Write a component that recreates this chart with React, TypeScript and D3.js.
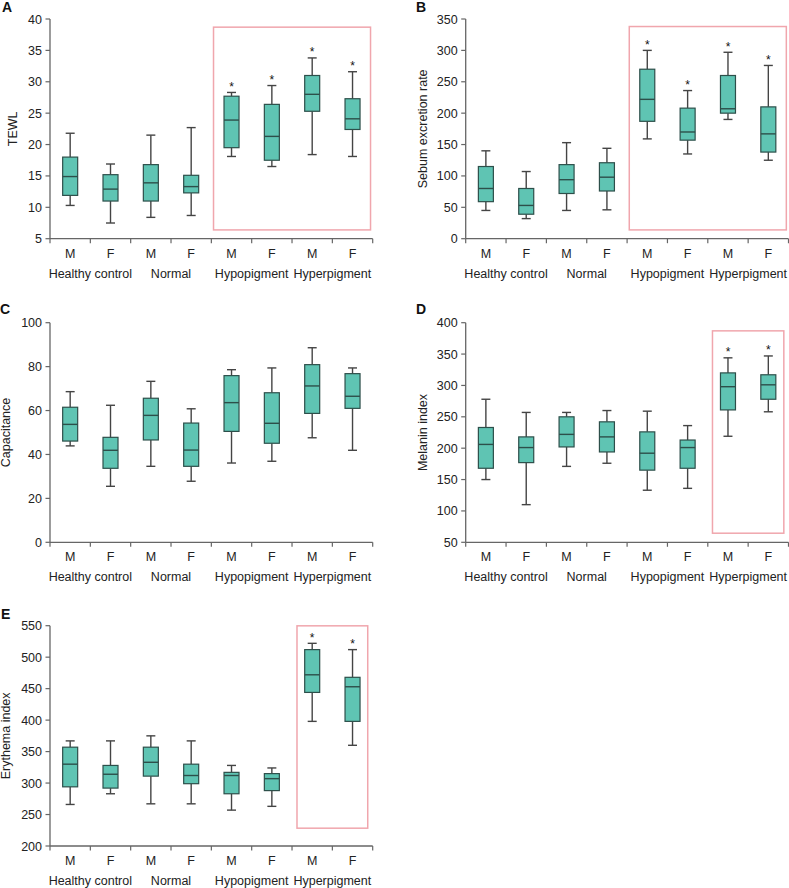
import React from "react";
import * as d3 from "d3";

const categories = ["M", "F", "M", "F", "M", "F", "M", "F"];
const groups = ["Healthy control", "Normal", "Hypopigment", "Hyperpigment"];

// [whiskerLow, q1, median, q3, whiskerHigh]
const tewl = [
  [10.3, 11.9, 14.9, 18.0, 21.8],
  [7.5, 11.0, 12.9, 15.2, 16.9],
  [8.4, 11.0, 13.9, 16.8, 21.5],
  [8.7, 12.3, 13.3, 15.1, 22.7],
  [18.1, 19.5, 23.9, 27.7, 28.3],
  [16.5, 17.5, 21.3, 26.4, 29.4],
  [18.4, 25.3, 28.0, 31.0, 33.8],
  [18.1, 22.4, 24.1, 27.3, 31.6],
];
const sebum = [
  [45, 59, 80, 115, 140],
  [32, 39, 53, 80, 107],
  [45, 72, 94, 118, 153],
  [46, 76, 98, 121, 144],
  [159, 187, 222, 270, 300],
  [135, 157, 170, 208, 236],
  [190, 200, 207, 260, 297],
  [125, 138, 167, 210, 276],
];
const capacitance = [
  [43.9, 46.1, 53.7, 61.5, 68.6],
  [25.5, 33.7, 41.9, 47.8, 62.4],
  [34.6, 46.6, 57.8, 65.6, 73.3],
  [27.8, 34.6, 42.0, 54.3, 60.8],
  [36.1, 50.5, 63.6, 75.9, 78.6],
  [36.9, 45.1, 54.2, 68.1, 79.4],
  [47.6, 58.7, 71.2, 80.9, 88.6],
  [41.9, 61.0, 66.5, 76.8, 79.4],
];
const melanin = [
  [150, 168, 206, 233, 278],
  [110, 177, 201, 218, 257],
  [171, 202, 222, 250, 257],
  [176, 194, 218, 242, 260],
  [133, 165, 192, 226, 259],
  [136, 168, 201, 213, 236],
  [219, 261, 298, 320, 344],
  [258, 278, 301, 317, 347],
];
const erythema = [
  [266, 294, 330, 357, 367],
  [283, 292, 314, 328, 367],
  [267, 311, 333, 357, 375],
  [267, 299, 312, 330, 367],
  [257, 283, 312, 317, 328],
  [263, 288, 307, 315, 324],
  [398, 444, 472, 512, 522],
  [360, 398, 453, 468, 512],
];

const starsA = [4, 5, 6, 7];
const starsB = [4, 5, 6, 7];
const starsC: number[] = [];
const starsD = [6, 7];
const starsE = [6, 7];

const ticksA = [5, 10, 15, 20, 25, 30, 35, 40];
const ticksB = [0, 50, 100, 150, 200, 250, 300, 350];
const ticksC = [0, 20, 40, 60, 80, 100];
const ticksD = [50, 100, 150, 200, 250, 300, 350, 400];
const ticksE = [200, 250, 300, 350, 400, 450, 500, 550];

// highlight: [fromIndex, toIndex, high, low]
const highlightA = [4, 7, 38.7, 6.4];
const highlightB = [4, 7, 338, 14];
const highlightD = [6, 7, 387, 64.5];
const highlightE = [6, 7, 549.8, 228.3];

type Panel = {
  letter: string;
  letterX: number;
  letterY: number;
  axisX: number;
  right: number;
  yTop: number;
  yBot: number;
  domain: [number, number];
  ticks: number[];
  label: string;
  labelX: number;
  data: number[][];
  stars: number[];
  highlight: number[] | null;
  hpad: number;
};

const panels: Panel[] = [
  { letter: "A", letterX: 2, letterY: 12, axisX: 50, right: 372.7, yTop: 19, yBot: 238.7, domain: [5, 40], ticks: ticksA, label: "TEWL", labelX: 12, data: tewl, stars: starsA, highlight: highlightA, hpad: 18 },
  { letter: "B", letterX: 416, letterY: 12, axisX: 465.7, right: 788.5, yTop: 19, yBot: 238.7, domain: [0, 350], ticks: ticksB, label: "Sebum excretion rate", labelX: 422, data: sebum, stars: starsB, highlight: highlightB, hpad: 18 },
  { letter: "C", letterX: 0, letterY: 314, axisX: 50, right: 372.7, yTop: 322.7, yBot: 542.3, domain: [0, 100], ticks: ticksC, label: "Capacitance", labelX: 5, data: capacitance, stars: starsC, highlight: null, hpad: 15 },
  { letter: "D", letterX: 416, letterY: 314, axisX: 465.7, right: 788.5, yTop: 322.7, yBot: 542.3, domain: [50, 400], ticks: ticksD, label: "Melanin index", labelX: 422, data: melanin, stars: starsD, highlight: highlightD, hpad: 15.5 },
  { letter: "E", letterX: 1, letterY: 619, axisX: 50, right: 372.7, yTop: 625.7, yBot: 846, domain: [200, 550], ticks: ticksE, label: "Erythema index", labelX: 5, data: erythema, stars: starsE, highlight: highlightE, hpad: 15.2 },
];

const FONT = "'Liberation Sans', Arial, sans-serif";
const FILL = "#5fc4b3";
const BOX_STROKE = "#2d4f4a";
const WHISKER = "#444";
const AXIS = "#666";
const PINK = "#f0a6ad";

function PanelView({ p }: { p: Panel }) {
  const x = d3
    .scaleBand<number>()
    .domain(d3.range(categories.length))
    .range([p.axisX, p.right])
    .paddingInner(0)
    .paddingOuter(0);
  const y = d3.scaleLinear().domain(p.domain).range([p.yBot, p.yTop]);
  const bw = x.bandwidth();
  const boxW = 15;
  const capW = 9;
  const boundaries = d3.range(categories.length + 1).map((i) => p.axisX + i * bw);

  return (
    <g>
      <text x={p.letterX} y={p.letterY} fontFamily={FONT} fontWeight="bold" fontSize={14} fill="#111">
        {p.letter}
      </text>
      {p.highlight && (
        <rect
          x={x(p.highlight[0])! + bw / 2 - p.hpad}
          y={y(p.highlight[2])}
          width={x(p.highlight[1])! - x(p.highlight[0])! + 2 * p.hpad}
          height={y(p.highlight[3]) - y(p.highlight[2])}
          fill="none"
          stroke={PINK}
          strokeWidth={1.5}
        />
      )}
      {/* y axis */}
      <line x1={p.axisX} x2={p.axisX} y1={p.yTop} y2={p.yBot} stroke={AXIS} strokeWidth={1.3} />
      {p.ticks.map((t) => (
        <g key={t}>
          <line x1={p.axisX - 4.5} x2={p.axisX} y1={y(t)} y2={y(t)} stroke={AXIS} strokeWidth={1.2} />
          <text x={p.axisX - 8} y={y(t)} dy="0.36em" textAnchor="end" fontFamily={FONT} fontSize={12.5} fill="#222">
            {t}
          </text>
        </g>
      ))}
      <text
        transform={`translate(${p.labelX},${(p.yTop + p.yBot) / 2}) rotate(-90)`}
        dy="0.36em"
        textAnchor="middle"
        fontFamily={FONT}
        fontSize={12.5}
        fill="#222"
      >
        {p.label}
      </text>
      {/* x axis */}
      <line x1={p.axisX} x2={p.right} y1={p.yBot} y2={p.yBot} stroke={AXIS} strokeWidth={1.3} />
      {boundaries.map((bx, i) => (
        <line key={i} x1={bx} x2={bx} y1={p.yBot} y2={p.yBot + 4.5} stroke={AXIS} strokeWidth={1.2} />
      ))}
      {categories.map((c, i) => (
        <text key={i} x={x(i)! + bw / 2} y={p.yBot + 19} textAnchor="middle" fontFamily={FONT} fontSize={12.5} fill="#222">
          {c}
        </text>
      ))}
      {groups.map((g, i) => (
        <text key={g} x={x(i * 2)! + bw} y={p.yBot + 39} textAnchor="middle" fontFamily={FONT} fontSize={12.5} fill="#222">
          {g}
        </text>
      ))}
      {/* boxes */}
      {p.data.map((d, i) => {
        const cx = x(i)! + bw / 2;
        const [lo, q1, med, q3, hi] = d;
        return (
          <g key={i}>
            <line x1={cx} x2={cx} y1={y(hi)} y2={y(q3)} stroke={WHISKER} strokeWidth={1.4} />
            <line x1={cx} x2={cx} y1={y(q1)} y2={y(lo)} stroke={WHISKER} strokeWidth={1.4} />
            <line x1={cx - capW / 2} x2={cx + capW / 2} y1={y(hi)} y2={y(hi)} stroke={WHISKER} strokeWidth={1.4} />
            <line x1={cx - capW / 2} x2={cx + capW / 2} y1={y(lo)} y2={y(lo)} stroke={WHISKER} strokeWidth={1.4} />
            <rect x={cx - boxW / 2} y={y(q3)} width={boxW} height={y(q1) - y(q3)} fill={FILL} stroke={BOX_STROKE} strokeWidth={1.2} />
            <line x1={cx - boxW / 2} x2={cx + boxW / 2} y1={y(med)} y2={y(med)} stroke={BOX_STROKE} strokeWidth={1.4} />
            {p.stars.includes(i) && (
              <text x={cx} y={y(hi) - 1.5} textAnchor="middle" fontFamily={FONT} fontSize={12} fill="#111">
                *
              </text>
            )}
          </g>
        );
      })}
    </g>
  );
}

export default function App() {
  return (
    <svg
      width={789}
      height={888}
      viewBox="0 0 789 888"
      style={{ position: "absolute", left: 0, top: 0, background: "#fff" }}
    >
      <rect width={789} height={888} fill="#fff" />
      {panels.map((p) => (
        <PanelView key={p.letter} p={p} />
      ))}
    </svg>
  );
}
